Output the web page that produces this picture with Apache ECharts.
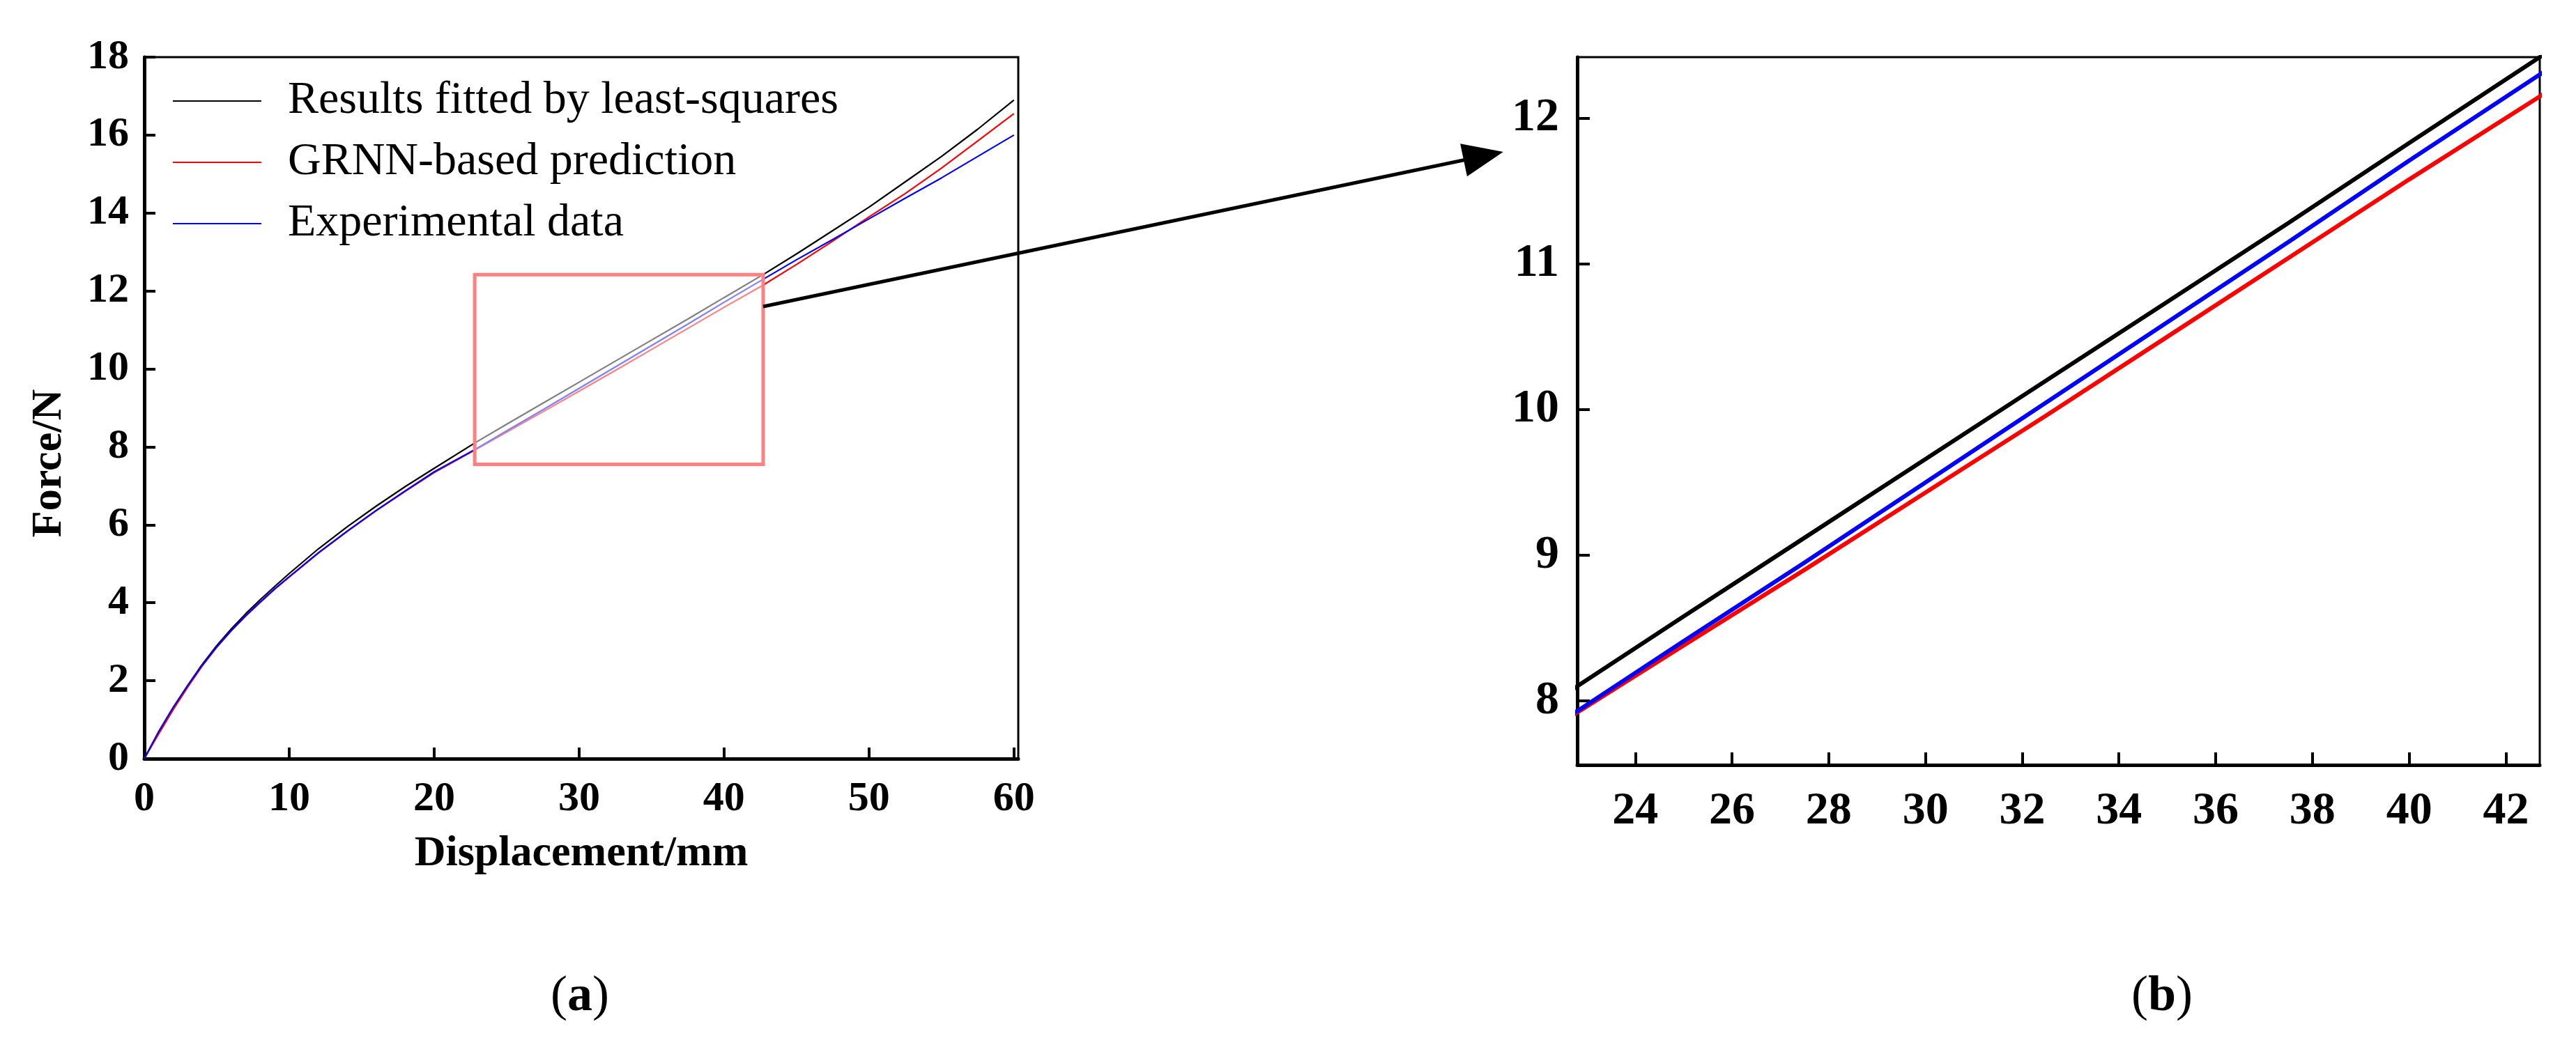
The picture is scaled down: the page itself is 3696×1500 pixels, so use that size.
<!DOCTYPE html>
<html>
<head>
<meta charset="utf-8">
<script src="https://cdn.jsdelivr.net/npm/echarts@6/dist/echarts.min.js"></script>
<style>
html,body{margin:0;padding:0;background:#fff;}
#chart{width:3696px;height:1500px;}
</style>
</head>
<body>
<div id="chart"></div>
<script>
// ---- data ----
const displacement = [0,1,2,3,4,5,6,7,8,9,10,12,14,16,18,20,22.8,25,27.5,30,32.5,35,37.5,40,42.7,45,47.5,50,52.5,55,57.5,60];
const leastSquares = [0,0.68,1.3,1.88,2.42,2.9,3.33,3.72,4.08,4.42,4.75,5.38,5.95,6.48,6.98,7.45,8.1,8.58,9.12,9.66,10.2,10.74,11.28,11.83,12.42,12.95,13.55,14.15,14.8,15.45,16.15,16.9];
const grnnPred     = [0,0.64,1.26,1.84,2.38,2.86,3.28,3.66,4.01,4.35,4.66,5.27,5.83,6.36,6.86,7.34,7.92,8.38,8.9,9.43,9.96,10.5,11.04,11.58,12.15,12.68,13.28,13.9,14.5,15.15,15.85,16.55];
const experimental = [0,0.7,1.32,1.88,2.4,2.87,3.29,3.67,4.02,4.36,4.67,5.28,5.84,6.37,6.87,7.36,7.93,8.41,8.95,9.5,10.05,10.6,11.15,11.71,12.3,12.8,13.32,13.85,14.38,14.9,15.45,16.0];

const seriesNames = ['Results fitted by least-squares','GRNN-based prediction','Experimental data'];
const seriesColors = ['#000000','#ff0000','#0000ff'];

const xTicksA = [0,10,20,30,40,50,60];
const yTicksA = [0,2,4,6,8,10,12,14,16,18];
const xTicksB = [24,26,28,30,32,34,36,38,40,42];
const yTicksB = [8,9,10,11,12];

const rangeA = {xMin:0, xMax:60.3, yMin:0, yMax:18};
const rangeB = {xMin:22.8, xMax:42.7, yMin:7.56, yMax:12.42};
// zoom box drawn on panel (a): [x0, y0, x1, y1]
const zoomBox = [22.8, 7.55, 42.7, 12.42];
const arrowFrom = [42.7, 11.6];   // panel (a) coords
const arrowTo   = [21.27, 11.77]; // panel (b) coords

const FONT = 'Liberation Serif';

function pairs(xs, ys){ return xs.map((x,i)=>[x, ys[i]]); }
const allY = [leastSquares, grnnPred, experimental];

const chart = echarts.init(document.getElementById('chart'), null, {renderer:'canvas'});

function axisCommon(extra){
  return Object.assign({
    type:'value',
    splitLine:{show:false},
    axisLine:{show:true, onZero:false, lineStyle:{color:'#000', width:5}},
  }, extra);
}

const series = [];
allY.forEach((ys, i) => {
  series.push({
    name: seriesNames[i], type:'line', xAxisIndex:0, yAxisIndex:0,
    data: pairs(displacement, ys), showSymbol:false, symbol:'none',
    lineStyle:{color:seriesColors[i], width:2.2}, itemStyle:{color:seriesColors[i]},
    clip:true, z:3, animation:false
  });
});
allY.forEach((ys, i) => {
  series.push({
    name: seriesNames[i], type:'line', xAxisIndex:1, yAxisIndex:1,
    data: pairs(displacement, ys), showSymbol:false, symbol:'none',
    lineStyle:{color:seriesColors[i], width:6}, itemStyle:{color:seriesColors[i]},
    clip:true, z:3, animation:false
  });
});
// zoom box on panel (a)
series.push({
  type:'custom', xAxisIndex:0, yAxisIndex:0, z:10, silent:true, animation:false,
  data:[zoomBox],
  renderItem:function(params, api){
    const p0 = api.coord([api.value(0), api.value(3)]);
    const p1 = api.coord([api.value(2), api.value(1)]);
    return {type:'rect', shape:{x:p0[0], y:p0[1], width:p1[0]-p0[0], height:p1[1]-p0[1]},
      style:{fill:'rgba(255,255,255,0.5)', stroke:'#ff8080', lineWidth:5}};
  }
});

const option = {
  animation:false,
  backgroundColor:'#fff',
  grid:[
    {left:207, top:82, width:1254, height:1007, show:true, borderColor:'#000', borderWidth:3, backgroundColor:'transparent'},
    {left:2263, top:82, width:1381, height:1016, show:true, borderColor:'#000', borderWidth:3, backgroundColor:'transparent'}
  ],
  legend:{
    data: seriesNames.map(n=>({name:n})),
    orient:'vertical', left:243, top:107,
    itemWidth:127, itemHeight:20, itemGap:22,
    icon:'path://M0,0 L127,0 L127,2 L0,2 Z',
    textStyle:{fontFamily:FONT, fontSize:66, color:'#000', lineHeight:66, padding:[0,0,0,33]},
    selectedMode:false
  },
  xAxis:[
    axisCommon({gridIndex:0, min:rangeA.xMin, max:rangeA.xMax,
      axisTick:{show:true, inside:true, length:16, lineStyle:{width:4,color:'#000'}, customValues:xTicksA},
      axisLabel:{customValues:xTicksA, fontFamily:FONT, fontWeight:'bold', fontSize:60, color:'#000', margin:28},
      name:'Displacement/mm', nameLocation:'middle', nameGap:106,
      nameTextStyle:{fontFamily:FONT, fontWeight:'bold', fontSize:62, color:'#000', verticalAlign:'top'}
    }),
    axisCommon({gridIndex:1, min:rangeB.xMin, max:rangeB.xMax,
      axisTick:{show:true, inside:true, length:18, lineStyle:{width:4,color:'#000'}, customValues:xTicksB},
      axisLabel:{customValues:xTicksB, fontFamily:FONT, fontWeight:'bold', fontSize:66, color:'#000', margin:34}
    })
  ],
  yAxis:[
    axisCommon({gridIndex:0, min:rangeA.yMin, max:rangeA.yMax,
      axisTick:{show:true, inside:true, length:16, lineStyle:{width:4,color:'#000'}, customValues:yTicksA},
      axisLabel:{customValues:yTicksA, fontFamily:FONT, fontWeight:'bold', fontSize:60, color:'#000', margin:22}
    }),
    axisCommon({gridIndex:1, min:rangeB.yMin, max:rangeB.yMax,
      axisTick:{show:true, inside:true, length:18, lineStyle:{width:4,color:'#000'}, customValues:yTicksB},
      axisLabel:{customValues:yTicksB, fontFamily:FONT, fontWeight:'bold', fontSize:68, color:'#000', margin:26}
    })
  ],
  series: series
};
chart.setOption(option);

// annotations: arrow, y-axis title, captions
const a = chart.convertToPixel({gridIndex:0}, arrowFrom);
const b = chart.convertToPixel({gridIndex:1}, arrowTo);
const dx = b[0]-a[0], dy = b[1]-a[1];
const L = Math.sqrt(dx*dx+dy*dy), ux = dx/L, uy = dy/L;
const headLen = 58, headW = 24;
const base = [b[0]-ux*headLen, b[1]-uy*headLen];
const pA = [base[0]-uy*headW, base[1]+ux*headW];
const pB = [base[0]+uy*headW, base[1]-ux*headW];

chart.setOption({
  graphic:[
    {type:'line', shape:{x1:a[0], y1:a[1], x2:base[0]+ux*4, y2:base[1]+uy*4}, style:{stroke:'#000', lineWidth:5}, z:20},
    {type:'polygon', shape:{points:[b, pA, pB]}, style:{fill:'#000'}, z:20},
    {type:'text', x:71, y:665, rotation:Math.PI/2, z:20,
      style:{text:'Force/N', font:'bold 62px "Liberation Serif"', fill:'#000', align:'center', verticalAlign:'middle'}},
    {type:'text', x:832, y:1431, z:20,
      style:{text:'{n|(}{b|a}{n|)}', align:'center', verticalAlign:'middle',
        rich:{n:{fontFamily:FONT, fontSize:72, fill:'#000'}, b:{fontFamily:FONT, fontSize:72, fontWeight:'bold', fill:'#000'}}}},
    {type:'text', x:3102, y:1431, z:20,
      style:{text:'{n|(}{b|b}{n|)}', align:'center', verticalAlign:'middle',
        rich:{n:{fontFamily:FONT, fontSize:72, fill:'#000'}, b:{fontFamily:FONT, fontSize:72, fontWeight:'bold', fill:'#000'}}}}
  ]
});
</script>
</body>
</html>
